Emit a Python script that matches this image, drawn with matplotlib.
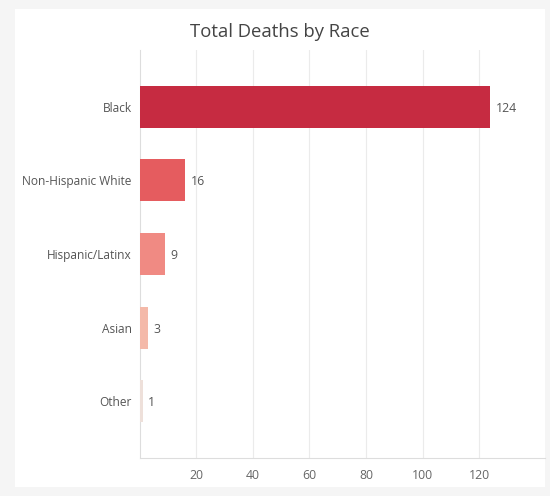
import matplotlib
matplotlib.use("Agg")
import matplotlib.pyplot as plt
from matplotlib.patches import Rectangle

categories = ["Black", "Non-Hispanic White", "Hispanic/Latinx", "Asian", "Other"]
values = [124, 16, 9, 3, 1]
colors = ["#c62b41", "#e55c5f", "#f08a83", "#f4b9a9", "#eee0da"]
xticks = [20, 40, 60, 80, 100, 120]
title = "Total Deaths by Race"

plt.rcParams['font.family'] = ['Open Sans', 'DejaVu Sans']

W, H = 550, 496
fig = plt.figure(figsize=(W / 100, H / 100), dpi=100)
fig.patch.set_facecolor("#f5f5f5")
# white panel
fig.patches.append(Rectangle((15 / W, 1 - 487 / H), (545 - 15) / W, (487 - 9) / H,
                             transform=fig.transFigure, facecolor="white",
                             edgecolor="none", zorder=-5))

ax_l, ax_r = 139.8, 545
ax_t, ax_b = 50, 458
ax = fig.add_axes([ax_l / W, 1 - ax_b / H, (ax_r - ax_l) / W, (ax_b - ax_t) / H])
ax.set_zorder(2)
ax.set_facecolor("none")

ypos = list(range(len(categories)))
ax.barh(ypos, values, height=0.57, color=colors, zorder=3)
for y, v in zip(ypos, values):
    ax.annotate(str(v), (v, y), xytext=(4, -1), textcoords="offset points",
                va="center", ha="left", fontsize=8.8, color="#555555")

ax.set_xlim(0, 143.3)
ax.set_ylim(4.77, -0.77)
ax.set_yticks(ypos)
ax.set_yticklabels(categories, fontsize=8.6, color="#555555")
ax.set_xticks(xticks)
ax.set_xticklabels([str(t) for t in xticks], fontsize=8.8, color="#666666")
ax.tick_params(axis="both", length=0)
ax.tick_params(axis="y", pad=5.8)
ax.tick_params(axis="x", pad=8)
ax.grid(axis="x", color="#ebebeb", linewidth=0.8, zorder=0)
for s in ["top", "right"]:
    ax.spines[s].set_visible(False)
for s in ["left", "bottom"]:
    ax.spines[s].set_color("#dddddd")
    ax.spines[s].set_linewidth(0.8)

fig.text(280 / W, 1 - 32 / H, title, ha="center", va="center", fontsize=13.3, color="#444444")

fig.savefig("out.png", dpi=100, facecolor=fig.get_facecolor())
